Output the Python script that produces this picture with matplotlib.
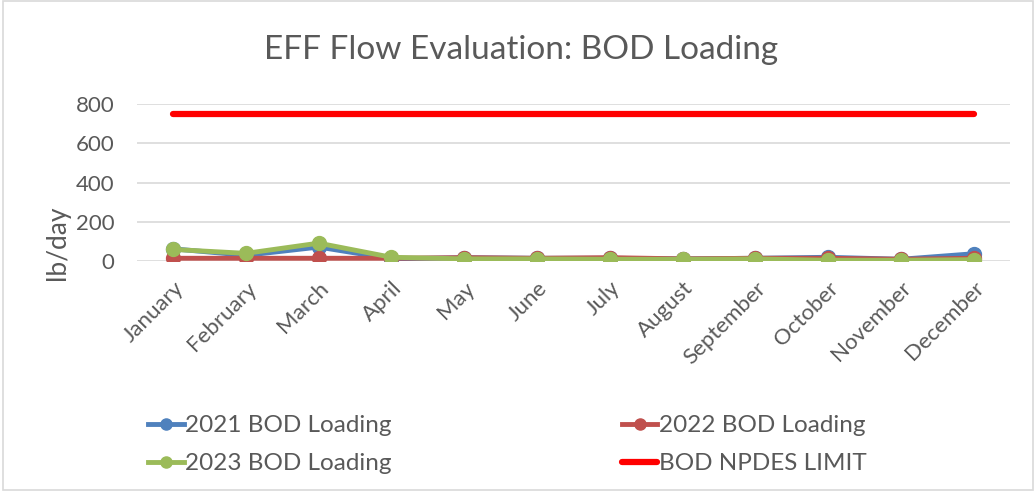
import matplotlib
matplotlib.use("Agg")
import matplotlib.pyplot as plt
from matplotlib.patches import Rectangle

months = ["January", "February", "March", "April", "May", "June", "July",
          "August", "September", "October", "November", "December"]
bod_2021 = [63, 30, 72, 12, 18, 15, 15, 12, 15, 20, 10, 38]
bod_2022 = [15, 15, 15, 15, 18, 15, 18, 12, 15, 15, 10, 15]
bod_2023 = [60, 40, 92, 20, 12, 12, 10, 10, 12, 5, 5, 8]
npdes_limit = [750] * 12
yticks = [0, 200, 400, 600, 800]

plt.rcParams['font.family'] = ['Lato', 'DejaVu Sans']
txt = "#595959"

fig = plt.figure(figsize=(10.36, 4.91), dpi=100)
ax = fig.add_axes([0.132, 0.468, 0.843, 0.320])

x = list(range(len(months)))
l1, = ax.plot(x, bod_2021, color="#4F81BD", lw=3.5, marker="o", ms=10, label="2021 BOD Loading", zorder=3)
l2, = ax.plot(x, bod_2022, color="#C0504D", lw=3.5, marker="o", ms=10, label="2022 BOD Loading", zorder=4)
l3, = ax.plot(x, bod_2023, color="#9BBB59", lw=3.5, marker="o", ms=10, label="2023 BOD Loading", zorder=5)
l4, = ax.plot(x, npdes_limit, color="#FF0000", lw=4.5, solid_capstyle="round", label="BOD NPDES LIMIT", zorder=2)

ax.set_xlim(-0.5, len(months) - 0.5)
ax.set_ylim(0, 800)
ax.set_yticks(yticks)
ax.set_xticks(x)
ax.set_xticklabels(months, rotation=45, ha="right", rotation_mode="anchor")
ax.tick_params(axis="both", length=0, labelsize=16, colors=txt)
ax.tick_params(axis="x", pad=12)
ax.tick_params(axis="y", pad=16)
ax.grid(axis="y", color="#D9D9D9", lw=1.2)
ax.set_axisbelow(True)
for s in ax.spines.values():
    s.set_visible(False)
ax.set_ylabel("lb/day", fontsize=19, color=txt, va="center")
ax.yaxis.set_label_coords(-0.0905, 0.12)
fig.text(0.503, 0.898, "EFF Flow Evaluation: BOD Loading", fontsize=24, color=txt,
         ha="center", va="center")

leg = fig.legend([l1, l3, l2, l4], [l.get_label() for l in [l1, l3, l2, l4]],
                 ncol=2, loc="upper left", bbox_to_anchor=(0.122, 0.199),
                 frameon=False, fontsize=17.5, handlelength=1.45, handletextpad=0.05,
                 columnspacing=9.5, labelspacing=0.71, markerscale=0.8)
for t in leg.get_texts():
    t.set_color(txt)

fig.add_artist(Rectangle((0.003, 0.003), 0.994, 0.994, transform=fig.transFigure,
                         fill=False, edgecolor="#D9D9D9", lw=1.2))

fig.savefig("out.png", dpi=100)
